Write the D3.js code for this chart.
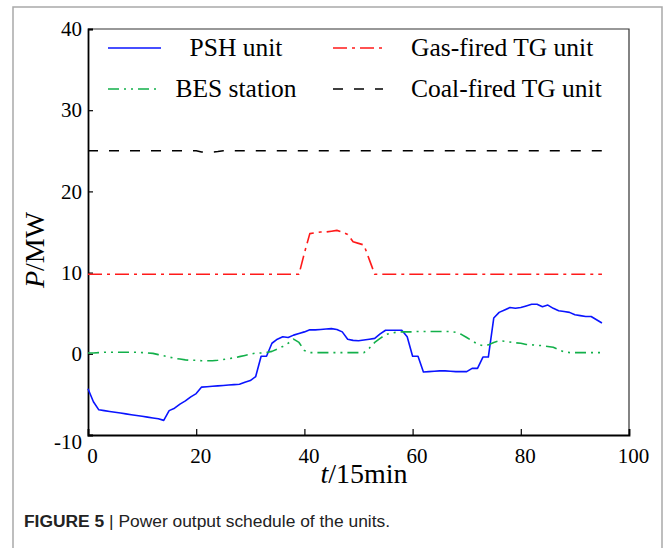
<!DOCTYPE html>
<html>
<head>
<meta charset="utf-8">
<script src="https://cdn.jsdelivr.net/npm/d3@7/dist/d3.min.js"></script>
<style>
  html, body { margin: 0; padding: 0; background: #fff; }
  svg { display: block; }
</style>
</head>
<body>
<svg id="chart" width="665" height="548"></svg>
<script>
// Time steps (15-min intervals)
const steps = d3.range(0, 96);

// Power output of each unit, MW
const pshUnit = [
  -4.3, -5.9, -6.9, -7.0, -7.1, -7.2, -7.3, -7.4, -7.5, -7.6,
  -7.7, -7.8, -7.9, -8.0, -8.2, -7.0, -6.7, -6.2, -5.8, -5.3,
  -4.9, -4.1, -4.05, -4.0, -3.95, -3.9, -3.85, -3.8, -3.75, -3.5,
  -3.3, -2.8, -0.3, -0.3, 1.3, 1.8, 2.1, 2.0, 2.3, 2.5,
  2.7, 2.95, 2.95, 3.0, 3.05, 3.1, 3.0, 2.7, 1.8, 1.65,
  1.6, 1.7, 1.8, 1.9, 2.45, 2.9, 2.9, 2.9, 2.9, 2.1,
  -0.3, -0.3, -2.25, -2.2, -2.15, -2.1, -2.1, -2.15, -2.2, -2.2,
  -2.2, -1.8, -1.8, -0.4, -0.4, 4.4, 5.1, 5.4, 5.7, 5.6,
  5.7, 5.9, 6.1, 6.1, 5.8, 6.0, 5.6, 5.3, 5.2, 5.1,
  4.8, 4.7, 4.6, 4.6, 4.2, 3.8
];

const gasUnit = [
  9.8, 9.8, 9.8, 9.8, 9.8, 9.8, 9.8, 9.8, 9.8, 9.8,
  9.8, 9.8, 9.8, 9.8, 9.8, 9.8, 9.8, 9.8, 9.8, 9.8,
  9.8, 9.8, 9.8, 9.8, 9.8, 9.8, 9.8, 9.8, 9.8, 9.8,
  9.8, 9.8, 9.8, 9.8, 9.8, 9.8, 9.8, 9.8, 9.8, 9.8,
  12.4, 14.8, 14.9, 15.0, 15.0, 15.1, 15.2, 15.0, 14.7, 13.8,
  13.6, 13.4, 11.6, 9.8, 9.8, 9.8, 9.8, 9.8, 9.8, 9.8,
  9.8, 9.8, 9.8, 9.8, 9.8, 9.8, 9.8, 9.8, 9.8, 9.8,
  9.8, 9.8, 9.8, 9.8, 9.8, 9.8, 9.8, 9.8, 9.8, 9.8,
  9.8, 9.8, 9.8, 9.8, 9.8, 9.8, 9.8, 9.8, 9.8, 9.8,
  9.8, 9.8, 9.8, 9.8, 9.8, 9.8
];

const besStation = [
  0.1, 0.1, 0.15, 0.2, 0.2, 0.2, 0.2, 0.2, 0.2, 0.2,
  0.15, 0.1, 0.05, -0.1, -0.25, -0.4, -0.55, -0.65, -0.75, -0.8,
  -0.8, -0.85, -0.85, -0.85, -0.8, -0.7, -0.6, -0.5, -0.35, -0.2,
  -0.05, 0.1, 0.1, 0.15, 0.3, 0.6, 0.9, 1.3, 1.8, 1.4,
  0.4, 0.15, 0.15, 0.15, 0.15, 0.15, 0.15, 0.15, 0.15, 0.15,
  0.15, 0.15, 0.7, 1.4, 1.9, 2.35, 2.55, 2.65, 2.7, 2.7,
  2.7, 2.75, 2.75, 2.75, 2.75, 2.75, 2.75, 2.75, 2.65, 2.4,
  2.0, 1.6, 1.2, 1.0, 1.1, 1.4, 1.6, 1.55, 1.45, 1.35,
  1.3, 1.15, 1.1, 1.05, 1.0, 0.9, 0.8, 0.5, 0.25, 0.15,
  0.15, 0.15, 0.15, 0.15, 0.15, 0.15
];

const coalUnit = [
  25, 25, 25, 25, 25, 25, 25, 25, 25, 25,
  25, 25, 25, 25, 25, 25, 25, 25, 25, 25,
  25, 24.85, 24.85, 24.85, 24.9, 25, 25, 25, 25, 25,
  25, 25, 25, 25, 25, 25, 25, 25, 25, 25,
  25, 25, 25, 25, 25, 25, 25, 25, 25, 25,
  25, 25, 25, 25, 25, 25, 25, 25, 25, 25,
  25, 25, 25, 25, 25, 25, 25, 25, 25, 25,
  25, 25, 25, 25, 25, 25, 25, 25, 25, 25,
  25, 25, 25, 25, 25, 25, 25, 25, 25, 25,
  25, 25, 25, 25, 25, 25
];

const xTicks = [0, 20, 40, 60, 80, 100];
const yTicks = [-10, 0, 10, 20, 30, 40];

const seriesNames = ["PSH unit", "Gas-fired TG unit", "BES station", "Coal-fired TG unit"];

const series = [
  { name: seriesNames[0], values: pshUnit,    color: "#0a14ff", dash: null,           width: 1.6 },
  { name: seriesNames[1], values: gasUnit,    color: "#ff1a1a", dash: "14,5,3,5",     width: 1.6 },
  { name: seriesNames[2], values: besStation, color: "#12b04a", dash: "11,5,2,5,2,5", width: 1.6 },
  { name: seriesNames[3], values: coalUnit,   color: "#000000", dash: "10,11",        width: 1.5 }
];

const svg = d3.select("#chart");
const serif = "'Liberation Serif', 'Times New Roman', serif";
const sans = "'Liberation Sans', Arial, Helvetica, sans-serif";

// Outer figure frame (open at the bottom)
svg.append("path")
  .attr("d", "M13,560 L13,7 L662,7 L662,560")
  .attr("fill", "none")
  .attr("stroke", "#a9a9a9")
  .attr("stroke-width", 1.5);

const plot = { left: 88, right: 629, top: 29, bottom: 435 };

const x = d3.scaleLinear().domain([0, 100]).range([plot.left, plot.right]);
const y = d3.scaleLinear().domain([-10, 40]).range([plot.bottom, plot.top]);

// Top and right frame
svg.append("path")
  .attr("d", `M${plot.left},${plot.top} L${plot.right},${plot.top} L${plot.right},${plot.bottom}`)
  .attr("fill", "none")
  .attr("stroke", "#333")
  .attr("stroke-width", 1.2);

const plainNumber = d => String(d);

// Bottom axis
const xAxis = svg.append("g")
  .attr("transform", `translate(0,${plot.bottom})`)
  .call(d3.axisBottom(x).tickValues(xTicks).tickSize(-6).tickPadding(13).tickFormat(plainNumber));
xAxis.attr("font-family", serif);
xAxis.select(".domain").attr("stroke", "#000").attr("stroke-width", 1.8);
xAxis.selectAll(".tick line").attr("stroke", "#000").attr("stroke-width", 1.2);
xAxis.selectAll(".tick text")
  .attr("font-family", serif).attr("font-size", 21).attr("fill", "#000").attr("dx", 4);

// Left axis
const yAxis = svg.append("g")
  .attr("transform", `translate(${plot.left},0)`)
  .call(d3.axisLeft(y).tickValues(yTicks).tickSize(-5).tickPadding(6).tickFormat(plainNumber));
yAxis.attr("font-family", serif);
yAxis.select(".domain").attr("stroke", "#000").attr("stroke-width", 1.8);
yAxis.selectAll(".tick line").attr("stroke", "#000").attr("stroke-width", 1.2);
yAxis.selectAll(".tick text")
  .attr("font-family", serif).attr("font-size", 21).attr("fill", "#000");
yAxis.selectAll(".tick").filter(d => d === -10).select("text").attr("dy", "0.62em");

// Series lines
const line = d3.line()
  .x((d, i) => x(steps[i]))
  .y(d => y(d));

const lines = svg.append("g");
series.forEach(s => {
  lines.append("path")
    .datum(s.values)
    .attr("d", line)
    .attr("fill", "none")
    .attr("stroke", s.color)
    .attr("stroke-width", s.width)
    .attr("stroke-dasharray", s.dash)
    .attr("stroke-linejoin", "round");
});

// Legend
const legendItems = [
  { s: series[0], row: 0, col: 0 },
  { s: series[1], row: 0, col: 1 },
  { s: series[2], row: 1, col: 0 },
  { s: series[3], row: 1, col: 1 }
];
const legendRowY = [48, 89];
const legendCols = [
  { x1: 108, x2: 161, tx: 236, anchor: "middle" },
  { x1: 333, x2: 383, tx: 411, anchor: "start" }
];
const legend = svg.append("g");
legendItems.forEach(it => {
  const c = legendCols[it.col];
  const ly = legendRowY[it.row];
  legend.append("line")
    .attr("x1", c.x1).attr("x2", c.x2).attr("y1", ly).attr("y2", ly)
    .attr("stroke", it.s.color)
    .attr("stroke-width", it.s.width)
    .attr("stroke-dasharray", it.s.dash);
  legend.append("text")
    .attr("x", c.tx).attr("y", ly + 8)
    .attr("text-anchor", c.anchor)
    .attr("font-family", serif)
    .attr("font-size", 25.5)
    .attr("fill", "#000")
    .text(it.s.name);
});

// Axis titles
const xTitle = svg.append("text")
  .attr("x", 364).attr("y", 483)
  .attr("text-anchor", "middle")
  .attr("font-family", serif).attr("font-size", 28).attr("fill", "#000");
xTitle.append("tspan").attr("font-style", "italic").text("t");
xTitle.append("tspan").text("/15min");

const yTitle = svg.append("text")
  .attr("transform", "translate(44,250) rotate(-90)")
  .attr("text-anchor", "middle")
  .attr("font-family", serif).attr("font-size", 28).attr("fill", "#000");
yTitle.append("tspan").attr("font-style", "italic").text("P");
yTitle.append("tspan").text("/MW");

// Caption
const caption = svg.append("text")
  .attr("x", 24).attr("y", 527)
  .attr("font-family", sans).attr("font-size", 17.4).attr("fill", "#222");
caption.append("tspan").attr("font-weight", "bold").text("FIGURE 5");
caption.append("tspan").text(" | Power output schedule of the units.");
</script>
</body>
</html>
